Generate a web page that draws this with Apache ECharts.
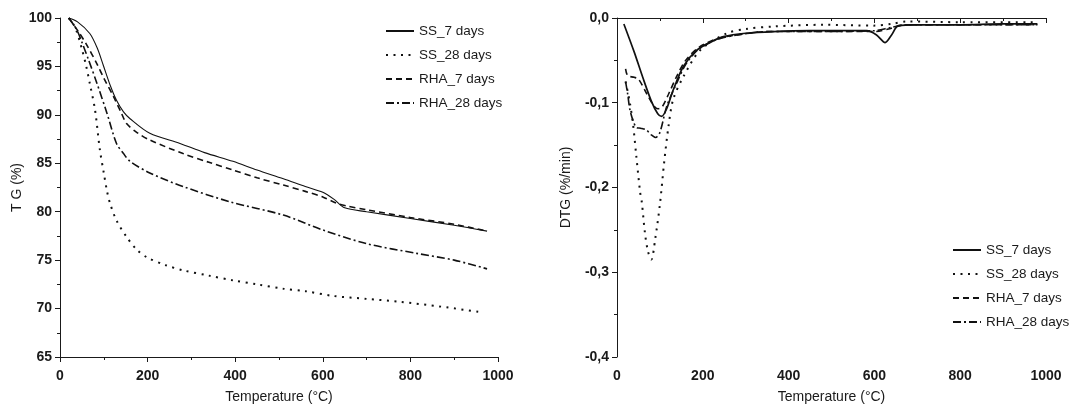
<!DOCTYPE html>
<html>
<head>
<meta charset="utf-8">
<script src="https://cdn.jsdelivr.net/npm/echarts@6/dist/echarts.min.js"></script>
<style>
  html, body { margin: 0; padding: 0; background: #fff; }
  #chart { width: 1091px; height: 407px; }
</style>
</head>
<body>
<div id="chart"></div>
<script>
// ============ 数据 ============
const seriesNames = ['SS_7 days', 'SS_28 days', 'RHA_7 days', 'RHA_28 days']

// TG (%) vs temperature (°C)
const tgSS7 = [[20,100],[40,99.6],[68,98.4],[85,96.9],[99,95.1],[115,93],[129,91.5],[145,90.3],[160,89.6],[205,88.1],[274,87.05],[330,86.1],[395,85.2],[450,84.3],[510,83.4],[560,82.6],[600,82.0],[625,81.3],[650,80.4],[700,80.0],[800,79.3],[900,78.6],[975,78.0]]
const tgSS28 = [[20,100],[35,99],[50,96.8],[60,95],[68,93.25],[80,90.5],[91,86.4],[100,84],[107,82.2],[114,80.9],[129,79.1],[152,77.4],[175,76.1],[198,75.3],[240,74.5],[281,73.95],[340,73.4],[396,72.9],[450,72.5],[510,72.05],[560,71.8],[624,71.3],[700,71.0],[776,70.7],[870,70.2],[966,69.6]]
const tgRHA7 = [[20,100],[42,98.6],[60,97.3],[84,95.3],[100,93.8],[122,91.9],[140,90.2],[152,89.1],[175,88.2],[205,87.4],[281,86.0],[340,85.1],[395,84.3],[450,83.5],[510,82.75],[560,82.1],[601,81.5],[630,80.9],[654,80.6],[700,80.2],[800,79.4],[900,78.7],[975,78.0]]
const tgRHA28 = [[20,100],[38,98.8],[50,97.5],[65,95.7],[84,93.3],[107,90.2],[129,87.05],[145,86],[160,85.2],[205,84.0],[281,82.6],[390,81.0],[510,79.65],[601,78.1],[700,76.7],[814,75.7],[900,75.0],[975,74.1]]

// DTG (%/min) vs temperature (°C)
const dtgSS7 = [[16,-0.007],[40,-0.04],[60,-0.07],[80,-0.098],[95,-0.113],[104,-0.116],[115,-0.108],[131,-0.085],[155,-0.057],[186,-0.038],[220,-0.028],[248,-0.022],[300,-0.018],[365,-0.016],[450,-0.015],[582,-0.015],[605,-0.02],[625,-0.029],[640,-0.02],[656,-0.009],[700,-0.008],[800,-0.008],[900,-0.007],[980,-0.007]]
const dtgSS28 = [[20,-0.075],[30,-0.1],[38,-0.128],[45,-0.163],[54,-0.206],[58,-0.218],[65,-0.253],[72,-0.275],[80,-0.285],[89,-0.261],[100,-0.22],[110,-0.17],[120,-0.128],[131,-0.096],[155,-0.069],[194,-0.038],[256,-0.018],[300,-0.013],[365,-0.01],[481,-0.008],[598,-0.009],[640,-0.007],[675,-0.004],[800,-0.005],[980,-0.005]]
const dtgRHA7 = [[20,-0.06],[25,-0.068],[40,-0.07],[50,-0.072],[70,-0.09],[85,-0.103],[95,-0.107],[105,-0.105],[120,-0.09],[140,-0.068],[160,-0.05],[190,-0.035],[230,-0.025],[280,-0.02],[350,-0.016],[450,-0.016],[600,-0.016],[640,-0.012],[670,-0.008],[800,-0.008],[980,-0.008]]
const dtgRHA28 = [[20,-0.075],[25,-0.09],[30,-0.108],[38,-0.122],[45,-0.129],[55,-0.13],[68,-0.132],[80,-0.138],[90,-0.141],[100,-0.135],[116,-0.104],[139,-0.077],[160,-0.055],[190,-0.037],[230,-0.026],[280,-0.02],[350,-0.016],[450,-0.016],[600,-0.015],[640,-0.011],[680,-0.008],[800,-0.008],[980,-0.008]]

// ============ 样式 ============
const FONT = '"Liberation Sans", Arial, sans-serif'
const INK = '#1a1a1a'
const LINE_TYPES = {
  'SS_7 days': { type: 'solid', width: [1.1, 1.7] },
  'SS_28 days': { type: [2, 5.5], width: [2, 2] },
  'RHA_7 days': { type: [6, 4], width: [1.6, 1.6] },
  'RHA_28 days': { type: [8, 3, 2, 3], width: [1.6, 1.6] }
}

function xAxisCfg(gridIndex) {
  return {
    type: 'value',
    gridIndex,
    min: 0,
    max: 1000,
    interval: 200,
    name: 'Temperature (°C)',
    nameLocation: 'middle',
    nameGap: 33,
    nameTextStyle: { color: INK, fontFamily: FONT, fontSize: 14 },
    axisLine: { lineStyle: { color: INK, width: 1 } },
    axisTick: { length: 5, lineStyle: { color: INK } },
    minorTick: { show: true, splitNumber: 2, length: 3, lineStyle: { color: INK } },
    axisLabel: { color: INK, fontFamily: FONT, fontSize: 14, fontWeight: 'bold', margin: 12, formatter: v => String(v) },
    splitLine: { show: false }
  }
}

function yAxisCfg(gridIndex, cfg) {
  return Object.assign({
    type: 'value',
    gridIndex,
    nameLocation: 'middle',
    nameTextStyle: { color: INK, fontFamily: FONT, fontSize: 14 },
    axisLine: { show: true, lineStyle: { color: INK, width: 1 } },
    axisTick: { show: true, length: 5, lineStyle: { color: INK } },
    minorTick: { show: true, splitNumber: 2, length: 3, lineStyle: { color: INK } },
    splitLine: { show: false }
  }, cfg)
}

function makeSeries(name, data, idx) {
  const ls = LINE_TYPES[name]
  return {
    name,
    type: 'line',
    xAxisIndex: idx,
    yAxisIndex: idx,
    data,
    smooth: 0.3,
    symbol: 'none',
    lineStyle: { color: '#111', width: ls.width[idx], type: ls.type },
    itemStyle: { color: '#111' },
    z: 3
  }
}

function legendCfg(left, top) {
  return {
    left,
    top,
    padding: 0,
    orient: 'vertical',
    data: seriesNames,
    itemWidth: 28,
    itemHeight: 14,
    itemGap: 10,
    itemStyle: { opacity: 0 },
    textStyle: { color: INK, fontFamily: FONT, fontSize: 13.5 },
    selectedMode: false
  }
}

const chart = echarts.init(document.getElementById('chart'))

const option = {
  animation: false,
  backgroundColor: '#fff',
  grid: [
    { left: 60, top: 18, width: 438, height: 339, outerBoundsMode: 'none', containLabel: false },
    { left: 617, top: 18, width: 429, height: 339, outerBoundsMode: 'none', containLabel: false }
  ],
  legend: [legendCfg(385, 24), legendCfg(952, 243)],
  xAxis: [xAxisCfg(0), xAxisCfg(1)],
  yAxis: [
    yAxisCfg(0, {
      min: 65, max: 100, interval: 5,
      name: 'T G (%)', nameGap: 36,
      axisLabel: { color: INK, fontFamily: FONT, fontSize: 14, fontWeight: 'bold', margin: 8 }
    }),
    yAxisCfg(1, {
      min: -0.4, max: 0, interval: 0.1,
      name: 'DTG (%/min)', nameGap: 44,
      axisLabel: {
        color: INK, fontFamily: FONT, fontSize: 14, fontWeight: 'bold', margin: 8,
        formatter: v => (Math.abs(v) < 1e-9 ? 0 : v).toFixed(1).replace('.', ',')
      }
    })
  ],
  series: [
    makeSeries('SS_7 days', tgSS7, 0),
    makeSeries('SS_28 days', tgSS28, 0),
    makeSeries('RHA_7 days', tgRHA7, 0),
    makeSeries('RHA_28 days', tgRHA28, 0),
    makeSeries('SS_7 days', dtgSS7, 1),
    makeSeries('SS_28 days', dtgSS28, 1),
    makeSeries('RHA_7 days', dtgRHA7, 1),
    makeSeries('RHA_28 days', dtgRHA28, 1)
  ]
}

chart.setOption(option)
window.addEventListener('resize', () => chart.resize())
</script>
</body>
</html>
